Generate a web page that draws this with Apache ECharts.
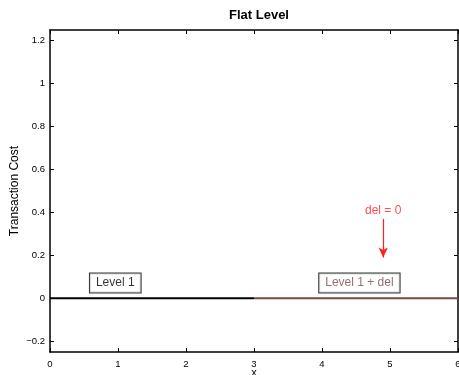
<!DOCTYPE html>
<html>
<head>
<meta charset="utf-8">
<script src="https://cdn.jsdelivr.net/npm/echarts@6/dist/echarts.min.js"></script>
<style>
  html, body { margin: 0; padding: 0; background: #fff; }
  #chart { width: 459px; height: 375px; }
</style>
</head>
<body>
<div id="chart"></div>
<script>
// data
const level1 = [[0, 0], [3, 0]]
const level1PlusDel = [[3, 0], [6, 0]]
const arrowPts = [[4.9, 0.37], [4.9, 0.19]]
const yTicks = [-0.2, 0, 0.2, 0.4, 0.6, 0.8, 1, 1.2]
const boxLabels = [
  { text: 'Level 1', at: [0.96, 0.072], color: '#000' },
  { text: 'Level 1 + del', at: [4.55, 0.072], color: '#7a4a4a' }
]
const delText = { text: 'del = 0', at: [4.9, 0.41] }

const font = 'Liberation Sans, Arial, Helvetica, sans-serif'
const fmt = v => String(v).replace('-', '\u2212')

const chart = echarts.init(document.getElementById('chart'))

const axisCommon = {
  axisLine: { show: true, onZero: false, lineStyle: { color: '#000', width: 1.5 } },
  axisTick: { inside: true, length: 4, lineStyle: { color: '#000' } },
  splitLine: { show: false }
}

chart.setOption({
  animation: false,
  backgroundColor: '#fff',
  title: {
    text: 'Flat Level',
    left: 254,
    textAlign: 'center',
    top: 4,
    textStyle: { fontFamily: font, fontSize: 13, fontWeight: 'bold', color: '#000' }
  },
  grid: { left: 50, right: 1, top: 30, bottom: 23, containLabel: false, outerBoundsMode: 'none' },
  xAxis: [{
    ...axisCommon,
    type: 'value', min: 0, max: 6, interval: 1,
    name: 'x', nameLocation: 'middle', nameGap: 21, nameMoveOverlap: false,
    nameTextStyle: { fontFamily: font, fontSize: 11, color: '#000', verticalAlign: 'middle' },
    axisLabel: { fontFamily: font, fontSize: 9.5, color: '#000', margin: 7, formatter: fmt }
  }, {
    ...axisCommon,
    type: 'value', min: 0, max: 6, interval: 1, position: 'top',
    axisLabel: { show: false }
  }],
  yAxis: [{
    ...axisCommon,
    type: 'value', min: -0.25, max: 1.25,
    name: 'Transaction Cost', nameLocation: 'middle', nameGap: 29, nameMoveOverlap: false,
    nameTextStyle: { fontFamily: font, fontSize: 12, color: '#000' },
    axisTick: { inside: true, length: 4, customValues: yTicks, lineStyle: { color: '#000' } },
    axisLabel: { fontFamily: font, fontSize: 9.5, color: '#000', margin: 5, customValues: yTicks, formatter: fmt }
  }, {
    ...axisCommon,
    type: 'value', min: -0.25, max: 1.25, position: 'right',
    axisTick: { inside: true, length: 4, customValues: yTicks, lineStyle: { color: '#000' } },
    axisLabel: { show: false, customValues: yTicks }
  }],
  series: [{
    name: 'Level 1',
    type: 'line',
    data: level1,
    showSymbol: false,
    lineStyle: { color: '#000', width: 2 },
    z: 3
  }, {
    name: 'Level 1 + del',
    type: 'line',
    data: level1PlusDel,
    showSymbol: false,
    lineStyle: { color: '#7f4545', width: 2 },
    z: 3
  }, {
    name: 'arrow',
    type: 'line',
    data: [],
    color: '#ff2020',
    markLine: {
      silent: true,
      symbol: ['none', 'arrow'],
      symbolSize: [7, 10],
      label: { show: false },
      itemStyle: { color: '#ff2020' },
      lineStyle: { color: '#ff2020', width: 1.2, type: 'solid', opacity: 1 },
      data: [[
        { coord: arrowPts[0], lineStyle: { color: '#ff2020' } },
        { coord: arrowPts[1] }
      ]]
    },
    z: 4
  }, {
    name: 'labels',
    type: 'scatter',
    symbol: 'circle',
    symbolSize: 0,
    z: 5,
    data: boxLabels.map(b => ({
      value: b.at,
      label: {
        show: true, position: 'inside', formatter: b.text,
        fontFamily: font, fontSize: 12, color: b.color,
        backgroundColor: '#fff', borderColor: '#000', borderWidth: 1,
        padding: [4, 6, 3, 6]
      }
    })).concat([{
      value: delText.at,
      label: {
        show: true, position: 'inside', formatter: delText.text,
        fontFamily: font, fontSize: 12, color: '#ff2020'
      }
    }])
  }]
})
</script>
</body>
</html>
